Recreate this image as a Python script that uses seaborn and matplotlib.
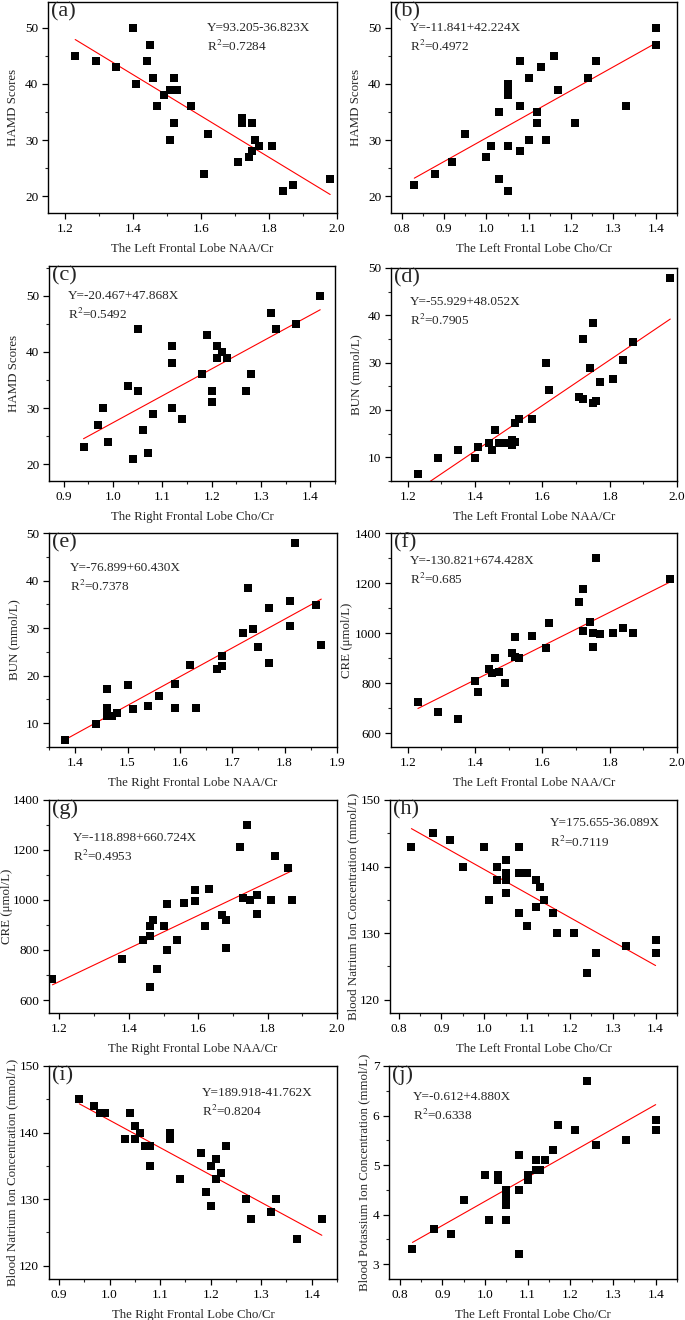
import numpy as np
import pandas as pd
import matplotlib
matplotlib.use("Agg")
import matplotlib.pyplot as plt
from matplotlib.ticker import MultipleLocator, AutoMinorLocator
import seaborn as sns

# values
a_x = [1.23, 1.29, 1.35, 1.40, 1.41, 1.44, 1.45, 1.46, 1.47, 1.49, 1.51, 1.51, 1.52, 1.52, 1.53,
       1.57, 1.61, 1.62, 1.71, 1.72, 1.72, 1.74, 1.75, 1.75, 1.76, 1.77, 1.81, 1.84, 1.87, 1.98]
a_y = [45, 44, 43, 50, 40, 44, 47, 41, 36, 38, 39, 30, 41, 33, 39,
       36, 24, 31, 26, 34, 33, 27, 33, 28, 30, 29, 29, 21, 22, 23]

b_x = [0.83, 0.88, 0.92, 0.95, 1.00, 1.01, 1.03, 1.03, 1.05, 1.05, 1.05, 1.05, 1.05, 1.08, 1.08,
       1.08, 1.10, 1.10, 1.12, 1.12, 1.13, 1.14, 1.16, 1.17, 1.21, 1.24, 1.26, 1.33, 1.40, 1.40]
b_y = [22, 24, 26, 31, 27, 29, 35, 23, 40, 39, 38, 29, 21, 44, 36,
       28, 41, 30, 35, 33, 43, 30, 45, 39, 33, 41, 44, 36, 50, 47]

c_x = [0.94, 0.97, 0.98, 0.99, 1.03, 1.04, 1.05, 1.05, 1.06, 1.07, 1.08, 1.12, 1.12, 1.12, 1.14,
       1.18, 1.19, 1.20, 1.20, 1.21, 1.21, 1.22, 1.23, 1.27, 1.28, 1.32, 1.33, 1.37, 1.42]
c_y = [23, 27, 30, 24, 34, 21, 44, 33, 26, 22, 29, 41, 38, 30, 28,
       36, 43, 33, 31, 41, 39, 40, 39, 33, 36, 47, 44, 45, 50]

d_x = [1.23, 1.29, 1.35, 1.40, 1.41, 1.44, 1.45, 1.46, 1.47, 1.49, 1.51, 1.51, 1.52, 1.52, 1.53,
       1.57, 1.61, 1.62, 1.71, 1.72, 1.72, 1.74, 1.75, 1.75, 1.76, 1.77, 1.81, 1.84, 1.87, 1.98]
d_y = [6.5, 9.8, 11.5, 9.8, 12.2, 13.0, 11.6, 15.8, 13.1, 13.0, 13.6, 12.6, 17.3, 13.2, 18.1,
       18.1, 30.0, 24.2, 22.7, 35.0, 22.3, 28.9, 38.4, 21.5, 22.0, 26.0, 26.5, 30.5, 34.3, 47.8]

e_x = [1.38, 1.44, 1.46, 1.46, 1.46, 1.47, 1.48, 1.50, 1.51, 1.54, 1.56, 1.59, 1.59, 1.62, 1.63,
       1.67, 1.68, 1.68, 1.72, 1.73, 1.74, 1.75, 1.77, 1.77, 1.81, 1.81, 1.82, 1.86, 1.87]
e_y = [6.5, 9.8, 17.3, 13.1, 11.6, 11.5, 12.2, 18.1, 13.0, 13.6, 15.8, 18.2, 13.1, 22.3, 13.2,
       21.4, 24.1, 22.0, 28.9, 38.4, 29.9, 26.0, 34.3, 22.7, 35.8, 30.5, 47.8, 34.9, 26.5]

f_x = [1.23, 1.29, 1.35, 1.40, 1.41, 1.44, 1.45, 1.46, 1.47, 1.49, 1.51, 1.52, 1.52, 1.53, 1.57,
       1.61, 1.62, 1.71, 1.72, 1.72, 1.74, 1.75, 1.75, 1.76, 1.77, 1.81, 1.84, 1.87, 1.98]
f_y = [725, 685, 655, 810, 765, 855, 840, 900, 845, 800, 920, 985, 905, 900, 990,
       940, 1040, 1125, 1175, 1010, 1045, 1000, 945, 1300, 995, 1000, 1020, 1000, 1215]

g_x = [1.18, 1.38, 1.44, 1.46, 1.46, 1.46, 1.47, 1.48, 1.50, 1.51, 1.51, 1.54, 1.56, 1.59, 1.59,
       1.62, 1.63, 1.67, 1.68, 1.68, 1.72, 1.73, 1.74, 1.75, 1.77, 1.77, 1.81, 1.82, 1.86, 1.87]
g_y = [685, 765, 842, 897, 855, 652, 922, 725, 898, 985, 800, 840, 990, 1040, 995,
       898, 1045, 940, 920, 810, 1212, 1010, 1300, 1002, 1022, 945, 1000, 1177, 1127, 1000]

h_x = [0.83, 0.88, 0.92, 0.95, 1.00, 1.01, 1.03, 1.03, 1.05, 1.05, 1.05, 1.05, 1.08, 1.08, 1.08,
       1.10, 1.10, 1.12, 1.12, 1.13, 1.14, 1.16, 1.17, 1.21, 1.24, 1.26, 1.33, 1.40, 1.40]
h_y = [143, 145, 144, 140, 143, 135, 140, 138, 141, 139, 138, 136, 143, 139, 133,
       139, 131, 138, 134, 137, 135, 133, 130, 130, 124, 127, 128, 129, 127]

i_x = [0.94, 0.97, 0.98, 0.99, 1.03, 1.04, 1.05, 1.05, 1.06, 1.07, 1.08, 1.08, 1.12, 1.12, 1.14,
       1.18, 1.19, 1.20, 1.20, 1.21, 1.21, 1.22, 1.23, 1.27, 1.28, 1.32, 1.33, 1.37, 1.42]
i_y = [145, 144, 143, 143, 139, 143, 141, 139, 140, 138, 138, 135, 140, 139, 133,
       137, 131, 135, 129, 136, 133, 134, 138, 130, 127, 128, 130, 124, 127]

j_x = [0.83, 0.88, 0.92, 0.95, 1.00, 1.01, 1.03, 1.03, 1.05, 1.05, 1.05, 1.05, 1.05, 1.08, 1.08,
       1.08, 1.10, 1.10, 1.12, 1.12, 1.13, 1.14, 1.16, 1.17, 1.21, 1.24, 1.26, 1.33, 1.40, 1.40]
j_y = [3.3, 3.7, 3.6, 4.3, 4.8, 3.9, 4.8, 4.7, 4.5, 4.4, 4.3, 4.2, 3.9, 5.2, 4.5,
       3.2, 4.8, 4.7, 5.1, 4.9, 4.9, 5.1, 5.3, 5.8, 5.7, 6.7, 5.4, 5.5, 5.9, 5.7]

# red line as drawn (intercept, slope); (i) is drawn lower than its printed equation
lines = [(93.205, -36.823), (-11.841, 42.224), (-20.467, 47.868), (-55.929, 48.052),
         (-76.899, 60.430), (-130.821, 674.428), (-118.898, 660.724), (175.655, -36.089),
         (183.0, -41.15), (-0.612, 4.880)]
r2 = ["0.7284", "0.4972", "0.5492", "0.7905", "0.7378", "0.685", "0.4953", "0.7119", "0.8204", "0.6338"]
equations = ["Y=93.205-36.823X", "Y=-11.841+42.224X", "Y=-20.467+47.868X", "Y=-55.929+48.052X",
             "Y=-76.899+60.430X", "Y=-130.821+674.428X", "Y=-118.898+660.724X",
             "Y=175.655-36.089X", "Y=189.918-41.762X", "Y=-0.612+4.880X"]

letters = ["(a)", "(b)", "(c)", "(d)", "(e)", "(f)", "(g)", "(h)", "(i)", "(j)"]
xlabels = ["The Left Frontal Lobe NAA/Cr", "The Left Frontal Lobe Cho/Cr",
           "The Right Frontal Lobe Cho/Cr", "The Left Frontal Lobe NAA/Cr",
           "The Right Frontal Lobe NAA/Cr", "The Left Frontal Lobe NAA/Cr",
           "The Right Frontal Lobe NAA/Cr", "The Left Frontal Lobe Cho/Cr",
           "The Right Frontal Lobe Cho/Cr", "The Left Frontal Lobe Cho/Cr"]
ylabels = ["HAMD Scores", "HAMD Scores", "HAMD Scores", "BUN (mmol/L)", "BUN (mmol/L)",
           "CRE (μmol/L)", "CRE (μmol/L)", "Blood Natrium Ion Concentration (mmol/L)",
           "Blood Natrium Ion Concentration (mmol/L)", "Blood Potassium Ion Concentration (mmol/L)"]

xs = [a_x, b_x, c_x, d_x, e_x, f_x, g_x, h_x, i_x, j_x]
ys = [a_y, b_y, c_y, d_y, e_y, f_y, g_y, h_y, i_y, j_y]

# layout: pixel box (left, right, top, bottom), limits, tick steps, text spot
boxes = [(48, 337, 2, 213), (391, 677, 2, 213), (49, 335, 266, 481), (391, 677, 268, 481),
         (49, 337, 533, 747), (391, 677, 533, 747), (49, 337, 800, 1013), (390, 677, 800, 1013),
         (49, 337, 1066, 1279), (389, 677, 1066, 1279)]
xlims = [(1.15, 2.0), (0.775, 1.45), (0.87, 1.45), (1.15, 2.0), (1.35, 1.9),
         (1.15, 2.0), (1.17, 2.0), (0.78, 1.45), (0.88, 1.45), (0.775, 1.45)]
ylims = [(17, 54.6), (17, 54.6), (17, 55.3), (5, 50), (5, 50),
         (545, 1400), (548, 1400), (118, 150), (118, 150), (2.7, 7)]
xsteps = [0.2, 0.1, 0.1, 0.2, 0.1, 0.2, 0.2, 0.1, 0.1, 0.1]
ysteps = [10, 10, 10, 10, 10, 200, 200, 10, 10, 1]
ypads = [4, 4, 4, 4, 4, 1, 0, 1, 1, 2]
eq_pos = [(0.55, 0.877), (0.066, 0.877), (0.066, 0.86), (0.066, 0.84), (0.073, 0.836),
          (0.066, 0.87), (0.083, 0.82), (0.557, 0.89), (0.53, 0.873), (0.083, 0.854)]

sns.set_style("ticks")
plt.rcParams['font.family'] = ['Liberation Serif', 'DejaVu Serif']
plt.rcParams['mathtext.fontset'] = 'stix'
plt.rcParams['xtick.direction'] = 'out'
plt.rcParams['ytick.direction'] = 'out'

W, H = 685, 1320
fig = plt.figure(figsize=(W / 100, H / 100), dpi=100)

for k in range(10):
    l, r, t, b = boxes[k]
    ax = fig.add_axes([l / W, 1 - b / H, (r - l) / W, (b - t) / H])
    df = pd.DataFrame({"x": xs[k], "y": ys[k]})
    sns.scatterplot(data=df, x="x", y="y", ax=ax, marker="s", color="black",
                    s=32, edgecolor="black", linewidth=0, zorder=3)
    x0, x1 = min(xs[k]), max(xs[k])
    c0, c1 = lines[k]
    fit_df = pd.DataFrame({"x": [x0, x1], "y": [c0 + c1 * x0, c0 + c1 * x1]})
    sns.lineplot(data=fit_df, x="x", y="y", ax=ax, color="red", linewidth=0.8, zorder=2)

    ax.set_xlim(*xlims[k])
    ax.set_ylim(*ylims[k])
    ax.xaxis.set_major_locator(MultipleLocator(xsteps[k]))
    ax.yaxis.set_major_locator(MultipleLocator(ysteps[k]))
    ax.xaxis.set_minor_locator(AutoMinorLocator(2))
    ax.yaxis.set_minor_locator(AutoMinorLocator(2))
    ax.xaxis.set_major_formatter(plt.FormatStrFormatter('%.1f'))
    ax.tick_params(which='major', length=4, width=0.9, labelsize=9.5, colors='black', pad=3)
    ax.tick_params(which='minor', length=2.5, width=0.8)
    for sp in ax.spines.values():
        sp.set_linewidth(1.0)
        sp.set_color('black')
    ax.set_xlabel(xlabels[k], fontsize=9.3, labelpad=6)
    ax.set_ylabel(ylabels[k], fontsize=9.3, labelpad=ypads[k])

    ax.text(0.012, 0.955, letters[k], transform=ax.transAxes, fontsize=16, va='center', ha='left')
    ex, ey = eq_pos[k]
    ax.text(ex, ey, equations[k], transform=ax.transAxes, fontsize=9.5, va='center', ha='left')
    ax.text(ex, ey - 0.087, "R$^{2}$=" + r2[k], transform=ax.transAxes, fontsize=9.5, va='center', ha='left')

fig.savefig("out.png", dpi=100, facecolor="white")
